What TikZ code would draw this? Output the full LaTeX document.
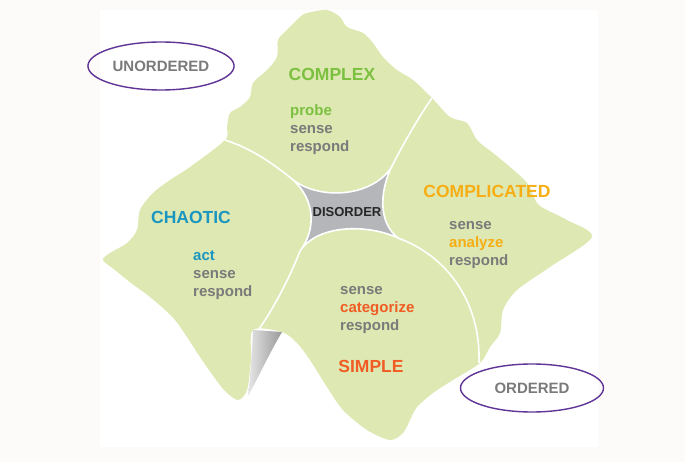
\documentclass[tikz,border=0pt]{standalone}
\usepackage{fontspec}
\setmainfont{Liberation Sans}
\usetikzlibrary{shapes.geometric}

\definecolor{paper}{RGB}{253,251,250}
\definecolor{leaf}{RGB}{222,232,178}
\definecolor{disorderfill}{RGB}{180,182,186}
\definecolor{greytext}{RGB}{122,122,122}
\definecolor{ring}{RGB}{96,52,150}
\definecolor{complexc}{RGB}{124,192,64}
\definecolor{chaoticc}{RGB}{26,150,192}
\definecolor{complicatedc}{RGB}{246,174,20}
\definecolor{simplec}{RGB}{240,92,36}

\begin{document}
\begin{tikzpicture}[x=1pt, y=-1pt,
    head/.style={font=\fontsize{17.5}{20}\selectfont\bfseries},
    verbs/.style={anchor=west, align=left, text=greytext, inner sep=0pt,
                  font=\fontsize{15}{18}\selectfont\bfseries},
    order/.style={ellipse, draw=ring, line width=1.4pt, minimum width=143pt,
                  minimum height=48pt, text=greytext, font=\fontsize{15}{18}\selectfont\bfseries},
    border/.style={draw=white, line width=1.6pt}]
    \useasboundingbox (0,0) rectangle (685,462);
    \fill [paper] (0,0) rectangle (685,462);
    \fill [white] (100,10) rectangle (598,447);

    % Landscape
    \fill [leaf] plot [smooth cycle, tension=0.5] coordinates {
        (300,17) (307,13) (327,10) (340,17) (347,27) (363,33) (373,43) (383,57)
        (397,70) (413,80) (432,98) (450,117) (467,123) (477,140) (493,153)
        (510,167) (527,183) (537,203) (547,210) (567,220) (592,237)
        (550,267) (517,290) (503,310) (500,333) (490,347) (480,363)
        (453,380) (433,393) (417,407) (410,420) (403,433) (390,440)
        (367,430) (343,410) (327,387) (310,360) (297,343) (282,332)
        (253,330) (251,360) (247,390) (238,400) (225,391) (214,377)
        (200,357) (175,320) (150,297) (131,283) (115,270) (103,260)
        (110,253) (127,243) (137,230) (140,210) (153,193) (170,180)
        (190,167) (225,140) (227,127) (230,113) (240,107) (250,97)
        (253,83) (267,70) (277,57) (278,40) (287,30)};
    \shade [left color=gray!20, right color=gray!80]
        (253,330) -- (282,332) .. controls (270,352) and (258,378) .. (248,396)
        .. controls (251,370) and (252,350) .. (253,330);

    % Corners and ends
    \coordinate (tl) at (292,179);
    \coordinate (tr) at (391,168);
    \coordinate (br) at (398,238);
    \coordinate (bl) at (300,251);
    \coordinate (west end)  at (225,140);
    \coordinate (north end) at (432,98);
    \coordinate (east end)  at (479,363);
    \coordinate (south end) at (259,329);

    % Borders
    \draw [border] (west end) .. controls (250,148) and (271,162) .. (tl);
    \draw [border] (north end) .. controls (418,118) and (401,148) .. (tr);
    \draw [border] (br) .. controls (445,255) and (481,300) .. (east end);
    \draw [border] (bl) .. controls (292,272) and (276,305) .. (south end);
    \filldraw [border, fill=disorderfill]
        (tl) .. controls (318,200) and (370,198) .. (tr)
             .. controls (380,192) and (378,222) .. (br)
             .. controls (368,224) and (318,224) .. (bl)
             .. controls (316,230) and (316,200) .. (tl) -- cycle;

    % Domains
    \node [head, text=complexc]     (complex)     at (332,74)  {COMPLEX};
    \node [head, text=chaoticc]     (chaotic)     at (191,217) {CHAOTIC};
    \node [head, text=complicatedc] (complicated) at (487,191) {COMPLICATED};
    \node [head, text=simplec]      (simple)      at (371,366) {SIMPLE};
    \node [font=\fontsize{13}{15}\selectfont\bfseries, text=black!85] (disorder) at (347,212) {DISORDER};

    \node [verbs] (complex verbs)     at (290,130) {\textcolor{complexc}{probe}\\sense\\respond};
    \node [verbs] (chaotic verbs)     at (193,275) {\textcolor{chaoticc}{act}\\sense\\respond};
    \node [verbs] (complicated verbs) at (449,245) {sense\\\textcolor{complicatedc}{analyze}\\respond};
    \node [verbs] (simple verbs)      at (340,310) {sense\\\textcolor{simplec}{categorize}\\respond};

    % Ellipses
    \node [order] (unordered) at (161,66)  {UNORDERED};
    \node [order] (ordered)   at (532,388) {ORDERED};
\end{tikzpicture}
\end{document}
